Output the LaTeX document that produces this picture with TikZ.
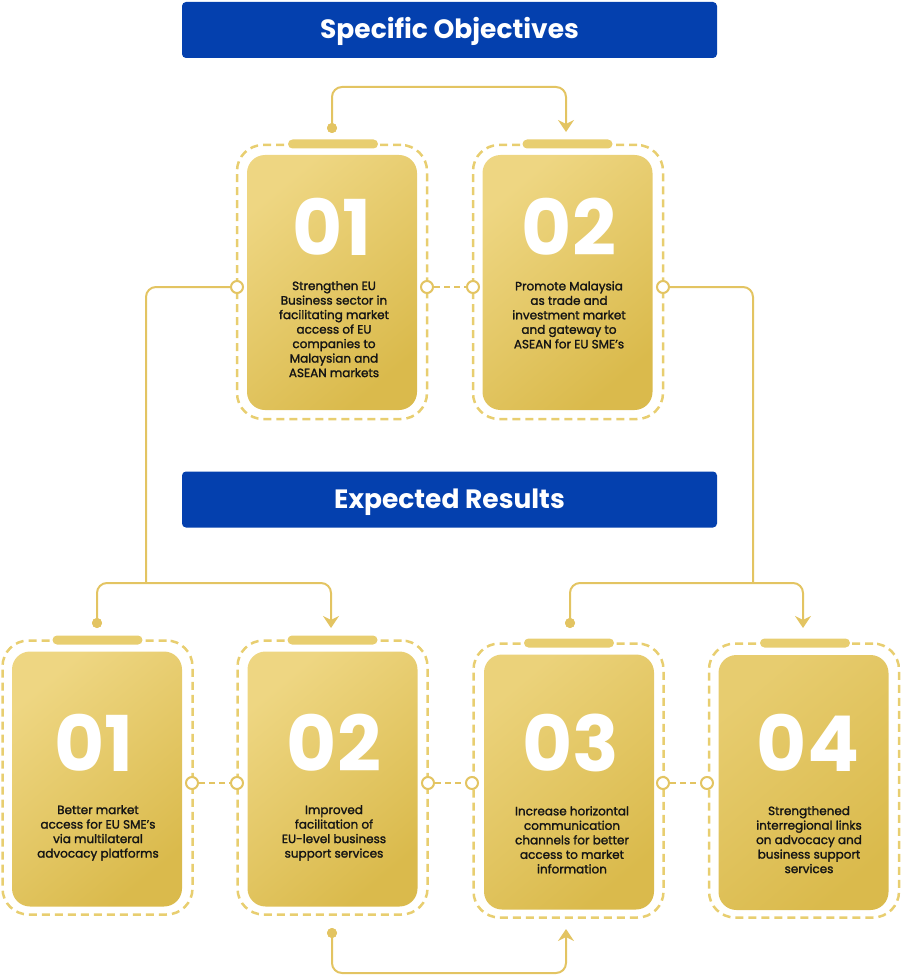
\documentclass[tikz,border=0pt]{standalone}
\usepackage{fontspec}
\setmainfont{Poppins}
\newfontfamily\bodyf{Poppins}[FakeBold=1.6]
\usetikzlibrary{arrows.meta}
\definecolor{hblue}{HTML}{0440AE}
\definecolor{gline}{HTML}{E3C462}
\definecolor{gdash}{HTML}{E8CE70}
\definecolor{glight}{HTML}{EED682}
\definecolor{gdark}{HTML}{DABA4C}
\definecolor{txt}{HTML}{151515}
\tikzset{
  header/.style={fill=hblue, rounded corners=4pt, minimum width=535pt, minimum height=56pt, inner sep=0pt},
  htext/.style={text=white, font=\fontsize{26.5}{30}\selectfont\bfseries, anchor=base, inner sep=0pt},
  outerbox/.style={draw=gdash, line width=2.5pt, dash pattern=on 8pt off 5pt, rounded corners=26pt, minimum width=190pt, minimum height=274pt, inner sep=0pt},
  innerbox/.style={rounded corners=18pt, minimum width=170pt, minimum height=255pt, inner sep=0pt, top color=#1, bottom color=gdark, shading angle=40},
  innerbox/.default=glight,
  tabbar/.style={fill=gdash, rounded corners=4.5pt, minimum width=90pt, minimum height=9pt, inner sep=0pt},
  bignum/.style={text=white, font=\fontsize{77}{80}\selectfont\bfseries, inner sep=0pt},
  bodytext/.style={text=txt, font=\bodyf\fontsize{12}{14.5}\selectfont, align=center, anchor=north, inner sep=0pt},
  ring/.style={circle, draw=gline, fill=white, line width=2pt, minimum size=12pt, inner sep=0pt},
  dotn/.style={circle, fill=gline, minimum size=10pt, inner sep=0pt},
  conn/.style={draw=gline, line width=2pt, rounded corners=10pt},
  linkdash/.style={draw=gline, line width=2pt, dash pattern=on 6pt off 4pt},
  tip/.style={-{Stealth[length=12pt, width=16pt, inset=4pt]}}
}
\begin{document}
\begin{tikzpicture}[x=1pt, y=-1pt]
\useasboundingbox (0,0) rectangle (900,976);
% headers
\node[header] (h1) at (449.5,30) {};
\node[htext] (h1t) at (449.5,39) {Specific Objectives};
\node[header] (h2) at (449.5,499.5) {};
\node[htext] (h2t) at (449.5,508.5) {Expected Results};

% ---- top cards ----
\node[outerbox] (a1o) at (332,282) {};
\node[innerbox=glight] (a1) at (332,282.5) {};
\node[tabbar] (a1tab) at (333,144) {};
\node[bignum] (a1n) at (332,227) {01};
\node[bodytext] (a1t) at (334,281) {Strengthen EU\\Business sector in\\facilitating market\\access of EU\\companies to\\Malaysian and\\ASEAN markets};

\node[outerbox] (a2o) at (568,282) {};
\node[innerbox=glight] (a2) at (567.5,282.5) {};
\node[tabbar] (a2tab) at (567.5,144) {};
\node[bignum] (a2n) at (569,227) {02};
\node[bodytext] (a2t) at (569,281) {Promote Malaysia\\as trade and\\investment market\\and gateway to\\ASEAN for EU SME’s};

% ---- bottom cards ----
\node[outerbox] (b1o) at (97.5,777.5) {};
\node[innerbox=glight] (b1) at (97,779) {};
\node[tabbar] (b1tab) at (97.5,640) {};
\node[bignum] (b1n) at (94,743) {01};
\node[bodytext] (b1t) at (98,805) {Better market\\access for EU SME’s\\via multilateral\\advocacy platforms};

\node[outerbox] (b2o) at (332.5,777.5) {};
\node[innerbox=glight] (b2) at (332.5,779) {};
\node[tabbar] (b2tab) at (332.5,640) {};
\node[bignum] (b2n) at (334,743) {02};
\node[bodytext] (b2t) at (334,805) {Improved\\facilitation of\\EU-level business\\support services};

\node[outerbox] (b3o) at (568.5,780.5) {};
\node[innerbox=glight!85!gdark] (b3) at (569,782) {};
\node[tabbar] (b3tab) at (569,643) {};
\node[bignum] (b3n) at (571,743) {03};
\node[bodytext] (b3t) at (572,806) {Increase horizontal\\communication\\channels for better\\access to market\\information};

\node[outerbox] (b4o) at (804,780.5) {};
\node[innerbox=glight!65!gdark] (b4) at (803.5,782.5) {};
\node[tabbar] (b4tab) at (805,643) {};
\node[bignum] (b4n) at (808,743) {04};
\node[bodytext] (b4t) at (809,806) {Strengthened\\interregional links\\on advocacy and\\business support\\services};

% ---- rings ----
\node[ring] (a1l) at (237,287) {};
\node[ring] (a1r) at (427,287) {};
\node[ring] (a2l) at (473,287) {};
\node[ring] (a2r) at (663,287) {};
\node[ring] (b1r) at (192,783) {};
\node[ring] (b2l) at (237,783) {};
\node[ring] (b2r) at (428,783) {};
\node[ring] (b3l) at (472,783) {};
\node[ring] (b3r) at (663,783) {};
\node[ring] (b4l) at (707,783) {};

% ---- dots and arrow targets ----
\node[dotn] (da1) at (332,128) {};
\coordinate (ta2) at (566,132);
\node[dotn] (db1) at (97,623) {};
\coordinate (tb2) at (331,628);
\node[dotn] (db3) at (570,623) {};
\coordinate (tb4) at (803,628);
\node[dotn] (db2) at (332,933) {};
\coordinate (tb3) at (566,929);
\coordinate (yTop) at (450,87);
\coordinate (yMid) at (450,583);
\coordinate (yBot) at (450,973);
\coordinate (xL) at (146,400);
\coordinate (xR) at (753,400);

% ---- connectors ----
\draw[linkdash] (a1r.east) -- (a2l.west);
\draw[linkdash] (b1r.east) -- (b2l.west);
\draw[linkdash] (b2r.east) -- (b3l.west);
\draw[linkdash] (b3r.east) -- (b4l.west);

\draw[conn, tip] (da1.center) -- (da1.center |- yTop) -- (ta2 |- yTop) -- (ta2);
\draw[conn, tip] (db1.center) -- (db1.center |- yMid) -- (tb2 |- yMid) -- (tb2);
\draw[conn] (a1l.west) -- (xL |- a1l) -- (xL |- yMid);
\draw[conn, tip] (db3.center) -- (db3.center |- yMid) -- (tb4 |- yMid) -- (tb4);
\draw[conn] (a2r.east) -- (xR |- a2r) -- (xR |- yMid);
\draw[conn, tip] (db2.center) -- (db2.center |- yBot) -- (tb3 |- yBot) -- (tb3);

\node[dotn] at (da1) {};
\node[dotn] at (db1) {};
\node[dotn] at (db3) {};
\node[dotn] at (db2) {};
\end{tikzpicture}
\end{document}
